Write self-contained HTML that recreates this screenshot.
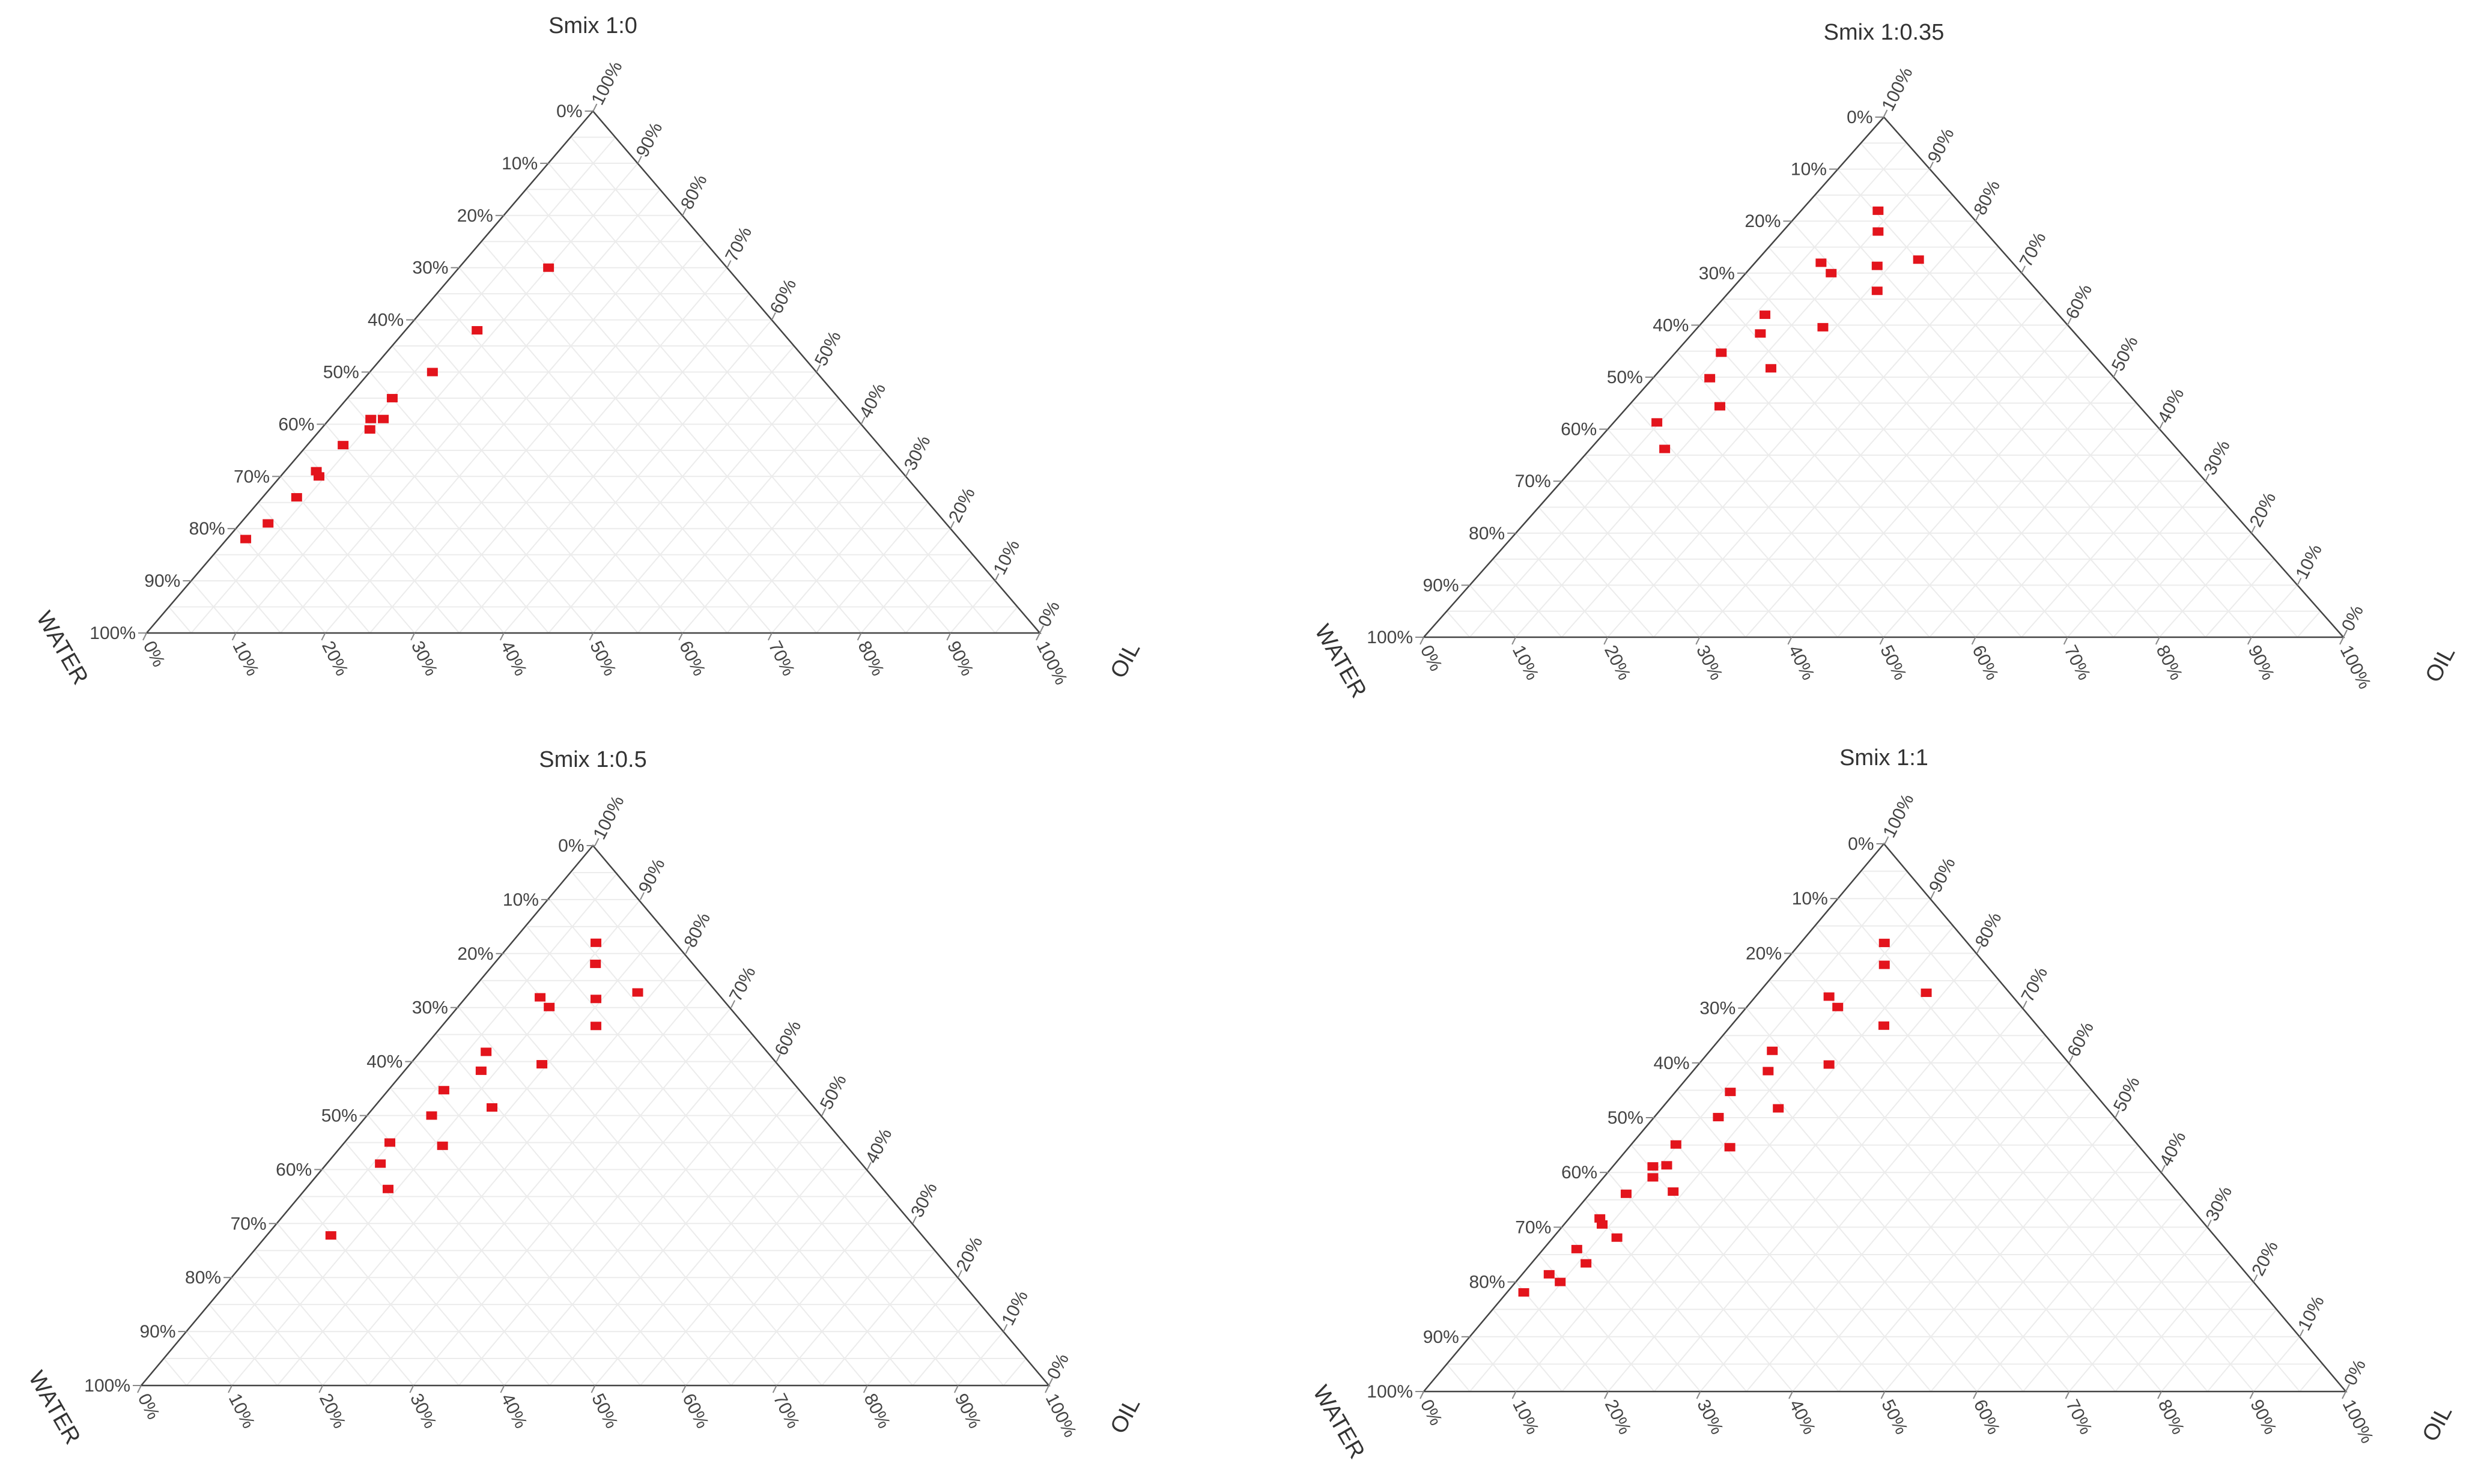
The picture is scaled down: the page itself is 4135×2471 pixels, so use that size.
<!DOCTYPE html>
<html><head><meta charset="utf-8">
<style>
html,body{margin:0;padding:0;background:#fff;}
svg{display:block;}
text{font-family:"Liberation Sans",Arial,sans-serif;fill:#333;}
</style></head>
<body>
<svg id="chart" width="4135" height="2471" viewBox="0 0 4135 2471" xmlns="http://www.w3.org/2000/svg">
<rect width="4135" height="2471" fill="#fff"/>
</svg>
<script>
// Smix 1:0
const smix1 = [70, 58, 50, 45, 41, 41, 39, 36, 31, 30, 26, 21, 18];
const oil1  = [10, 8, 7, 5, 6, 4.6, 5.5, 4, 3.5, 4.3, 3.8, 3.1, 2.1];
// Smix 1:0.35
const smix2 = [82, 78, 72.6, 72, 70, 71.4, 66.6, 62, 59.6, 58.4, 54.7, 51.7, 49.8, 44.4, 41.3, 36.2];
const oil2  = [8.4, 10.4, 17.5, 7.2, 9.3, 13.6, 16, 6.1, 13.6, 7.4, 5, 11.9, 6.2, 10, 4.7, 8.1];
// Smix 1:0.5
const smix3 = [82, 78.1, 72.8, 71.9, 70.1, 71.6, 66.6, 61.8, 59.5, 58.3, 54.7, 51.5, 50, 44.4, 45, 41.1, 36.4, 27.8];
const oil3  = [9.1, 11, 18.3, 8, 9.9, 14.3, 16.8, 7.1, 14.4, 8.3, 6, 12.9, 7, 11, 4.9, 5.8, 9, 7];
// Smix 1:1
const smix4 = [81.9, 77.9, 72.8, 72.1, 70.2, 66.8, 62.2, 58.5, 59.7, 54.7, 51.7, 50.1, 45.1, 44.6, 41.1, 41.3, 39.1, 36.5, 36.1, 31.6, 30.5, 28.1, 26, 23.4, 21.4, 20, 18.1];
const oil4  = [9, 11, 18.1, 7.9, 9.8, 16.5, 6.7, 8.1, 14.1, 5.9, 12.6, 6.9, 4.8, 10.9, 4.3, 5.7, 5.3, 8.8, 3.9, 3.3, 4.1, 6.9, 3.6, 5.9, 2.9, 4.8, 1.8];
const ticks = [0,10,20,30,40,50,60,70,80,90,100];

const NS = "http://www.w3.org/2000/svg";
const root = document.getElementById('chart');
function mk(tag, attrs, parent){
  const e = document.createElementNS(NS, tag);
  for (const k in attrs) e.setAttribute(k, attrs[k]);
  (parent||root).appendChild(e);
  return e;
}
const charts = [
  {title:"Smix 1:0", ax:987, ay:185, blx:244, bly:1054, brx:1731, smix:smix1, oil:oil1, ty:55, water:[93,1085], oilL:[1884,1105]},
  {title:"Smix 1:0.35", ax:3136, ay:195, blx:2370, bly:1061, brx:3901, smix:smix2, oil:oil2, ty:66, water:[2221,1107], oilL:[4073,1112]},
  {title:"Smix 1:0.5", ax:987, ay:1408, blx:235, bly:2307, brx:1746, smix:smix3, oil:oil3, ty:1277, water:[80,2350], oilL:[1884,2363]},
  {title:"Smix 1:1", ax:3136, ay:1405, blx:2370, bly:2317, brx:3905, smix:smix4, oil:oil4, ty:1274, water:[2218,2374], oilL:[4068,2376]}
];
charts.forEach((c, ci) => {
  const g = mk('g', {});
  
  
  const W = c.brx - c.blx, H = c.bly - c.ay;
  const P = (t, o) => [c.blx + o*W + t*W/2, c.bly - t*H];
  const grid = mk('g', {stroke:'#ececec','stroke-width':2,fill:'none'}, g);
  
  
  for (let i = 1; i < 20; i++) {
    const f = i/20;
    let a = P(f, 0), b = P(f, 1-f);
    mk('line', {x1:a[0],y1:a[1],x2:b[0],y2:b[1]}, grid);
    a = P(0, f); b = P(1-f, f);
    mk('line', {x1:a[0],y1:a[1],x2:b[0],y2:b[1]}, grid);
    a = P(0, 1-f); b = P(1-f, 0);
    mk('line', {x1:a[0],y1:a[1],x2:b[0],y2:b[1]}, grid);
  }
  const tri = mk('polygon', {points:`${c.ax},${c.ay} ${c.blx},${c.bly} ${c.brx},${c.bly}`, fill:'none', stroke:'#444','stroke-width':2.5}, g);
  
  
  const tt = mk('text', {x:c.ax, y:c.ty, 'text-anchor':'middle','font-size':38}, g);
  tt.textContent = c.title;
  
  
  ticks.forEach(v => {
    const f = v/100;
    let p = P(1-f, 0);
    mk('line', {x1:p[0]-14,y1:p[1],x2:p[0],y2:p[1],stroke:'#888','stroke-width':2}, g);
    let t = mk('text', {x:p[0]-18, y:p[1]+10, 'text-anchor':'end','font-size':30, style:'fill:#444'}, g);
    t.textContent = v + '%';
    
    
    p = P(0, f);
    mk('line', {x1:p[0],y1:p[1],x2:p[0]-6,y2:p[1]+12,stroke:'#888','stroke-width':2}, g);
    t = mk('text', {x:0, y:0, 'font-size':30, style:'fill:#444', transform:`translate(${p[0]-6},${p[1]+20}) rotate(63)`}, g);
    t.textContent = v + '%';
    
    
    p = P(f, 1-f);
    mk('line', {x1:p[0],y1:p[1],x2:p[0]+6,y2:p[1]-12,stroke:'#888','stroke-width':2}, g);
    t = mk('text', {x:0, y:0, 'font-size':30, style:'fill:#444', transform:`translate(${p[0]+14},${p[1]-8}) rotate(-63)`}, g);
    t.textContent = v + '%';
    
    
  });
  let t = mk('text', {x:0,y:0,'font-size':38,'text-anchor':'middle',transform:`translate(${c.water[0]},${c.water[1]}) rotate(60)`}, g);
  t.textContent = 'WATER';
  
  
  t = mk('text', {x:0,y:0,'font-size':38,'text-anchor':'middle',transform:`translate(${c.oilL[0]},${c.oilL[1]}) rotate(-62)`}, g);
  t.textContent = 'OIL';
  
  
  c.smix.forEach((s, i) => {
    const p = P(s/100, c.oil[i]/100);
    const r = mk('rect', {x:p[0]-9, y:p[1]-7, width:18, height:14, fill:'#e3141c'}, g);
    
    
  });
});
</script>
</body></html>
